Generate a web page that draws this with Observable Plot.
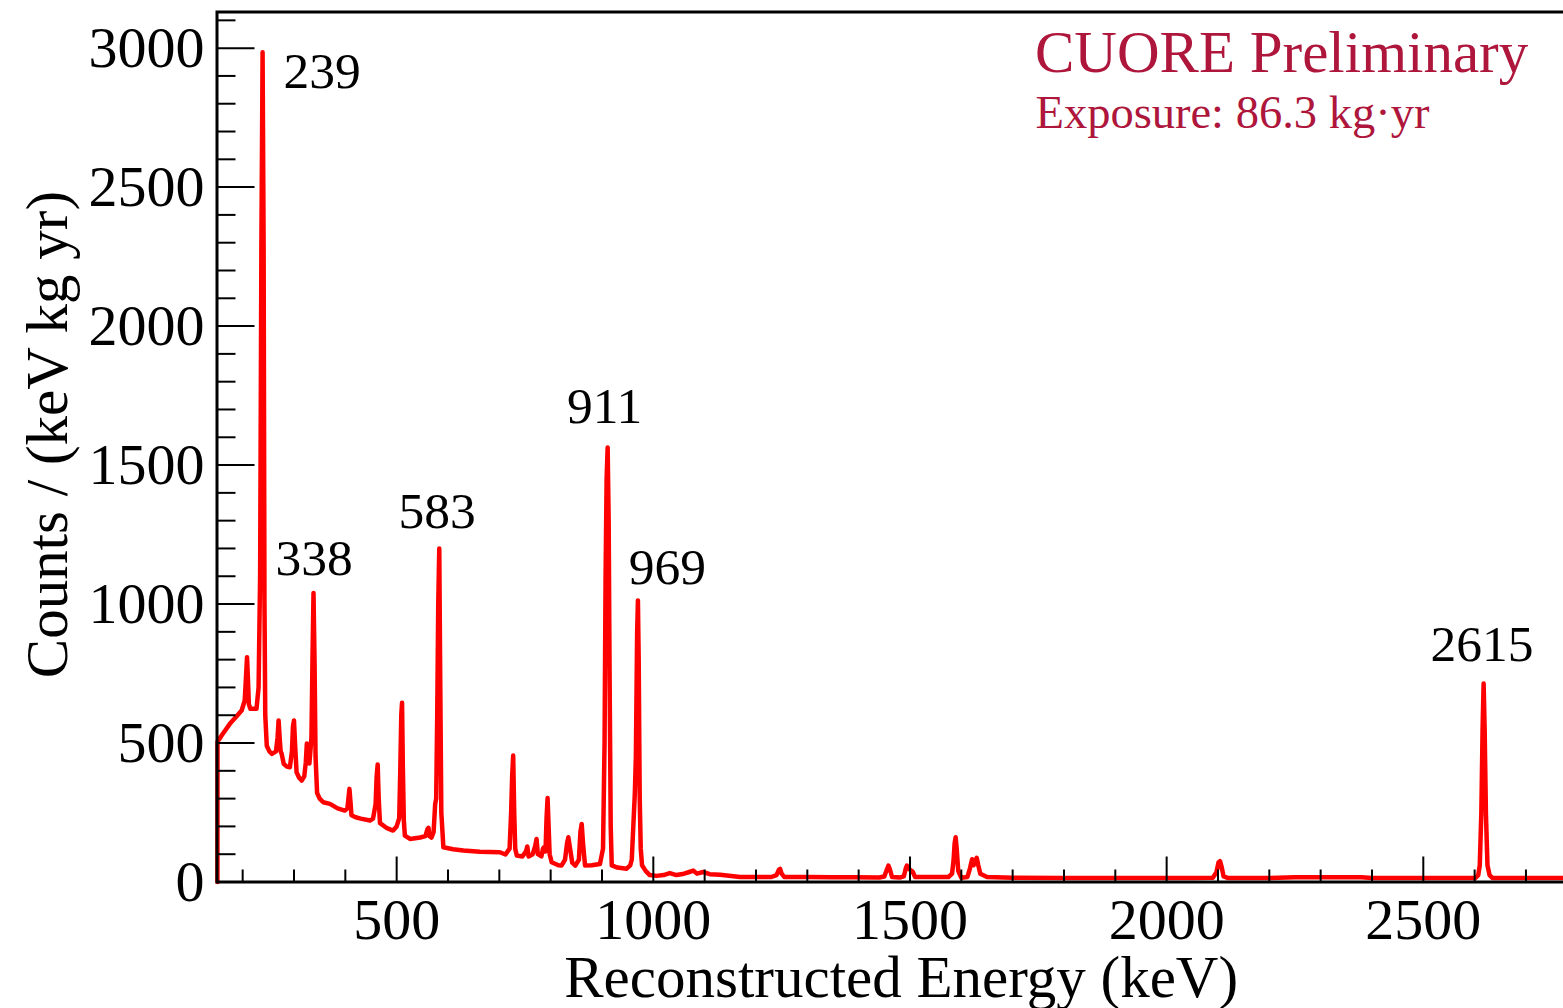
<!DOCTYPE html>
<html><head><meta charset="utf-8">
<script src="https://cdn.jsdelivr.net/npm/d3@7"></script>
<script src="https://cdn.jsdelivr.net/npm/@observablehq/plot@0.6"></script>
<style>
html,body{margin:0;padding:0;background:#fff;overflow:hidden;width:1563px;height:1008px;}
#chart svg{display:block;max-width:none !important;}
</style></head><body><div id="chart"></div>
<script>
// Reconstructed energy (keV) of each sampled point of the spectrum
const energies = [150.8,151,160,175,190,198,204,206,208.5,210.5,212,215,227,231,234,236.5,238.8,240.8,242.5,244,247,252,257,265,268,270,272,274,276,280,286,292,296,298,300,302,305,310,315,320,323,325,327,330,334,336,338,340,342,345,350,357,370,385,399,404,406,408,410,412,420,430,448,454,459,461,463,465,467.5,480,493,500,505,507,509,510.5,512,514,516,526,546,556,560,562,564,568,572,575,577,579,581,583,585,587,591,610,630,662,701,712,720,723,725,727,729,731,734,745,752,754.5,757,765,770,772.5,775,782,785,787,790,792,794,796,798,802,815,821,828,832,834.5,837,842,848,855,858,860.5,863,867,880,896,902,905,907,909,911,913,915,917,919,930,948,955,958,961,964,966,968.5,970,971.5,973.5,975.5,978,985,993,1006,1020,1032,1045,1060,1070,1078,1085,1097,1110,1130,1143,1169,1200,1230,1240,1245,1247,1250,1255,1300,1350,1390,1440,1450,1455,1458,1461,1465,1480,1488,1492,1494,1497,1501,1505,1510,1530,1556,1575,1582,1585,1587,1589,1591,1594,1600,1612,1617,1621,1624,1627,1630,1633,1637,1650,1700,1800,1900,2000,2050,2090,2097,2101,2104,2107,2111,2120,2200,2250,2300,2380,2400,2500,2601,2607,2610,2613,2615.5,2617.5,2619.5,2622,2625,2629,2635,2700,2800];
// Counts / (keV kg yr) at those energies
const counts = [0,505,530,569,600,617,653,720,809,720,640,623,623,700,1100,2300,2985,2300,1000,600,490,470,461,470,520,581,520,470,461,425,415,413,470,560,581,500,395,375,365,380,430,498,470,426,520,800,1040,800,450,320,300,287,281,265,257,265,300,335,290,240,233,228,221,228,280,380,423,300,212,195,185,200,230,400,600,645,420,220,167,155,160,165,190,195,165,160,180,280,300,600,1000,1200,700,250,125,118,113,109,107,99,120,250,380,455,250,120,95,92,110,128,92,100,130,155,100,92,120,125,110,230,302,200,100,71,60,59,80,140,161,130,70,59,80,180,209,140,59,60,65,120,500,1100,1450,1563,1300,700,200,60,52,48,60,80,200,320,450,900,1013,800,300,120,60,40,25,22,25,32,25,30,36,41,30,36,28,26,23,18,18,18,25,45,47,30,18,18,17,17,16,20,45,59,45,18,16,20,50,59,50,42,38,18,18,18,18,30,80,140,161,120,40,15,18,50,82,60,75,87,60,30,18,15,14,14,14,14,15,35,70,75,55,20,14,14,17,17,17,14,14,14,25,60,246,550,714,550,246,60,25,14,14,14];

const peakLabels = ["239","338","583","911","969","2615"];
const peakLabelEnergies = [355,339,578.6,905,1027.6,2614.4];
const peakLabelCounts = [2917,1165,1334,1712,1133,856];

const xMajorTicks = [500,1000,1500,2000,2500];
const xMinorTicks = [200,300,400,600,700,800,900,1100,1200,1300,1400,1600,1700,1800,1900,2100,2200,2300,2400,2600,2700];
const yMajorTicks = [0,500,1000,1500,2000,2500,3000];
const yMinorTicks = [100,200,300,400,600,700,800,900,1100,1200,1300,1400,1600,1700,1800,1900,2100,2200,2300,2400,2600,2700,2800,2900,3100];

const xTitle = "Reconstructed Energy (keV)";
const yTitle = "Counts / (keV kg yr)";
const headline = "CUORE Preliminary";
const exposureText = "Exposure: 86.3 kg·yr";

const spectrum = energies.map((e, i) => ({energy: e, count: counts[i]}));
const labels = peakLabels.map((t, i) => ({text: t, energy: peakLabelEnergies[i], count: peakLabelCounts[i]}));

const W = 1580, H = 1008, ML = 216.5, MR = 3.2, MT = 11.5, MB = 126.5;
const innerW = W - ML - MR, innerH = H - MT - MB;
const serif = "'Liberation Serif', 'Times New Roman', serif";
const crimson = "#ae163c";
const txt = {fill: "black", fontFamily: serif, lineAnchor: "middle"};

const chart = Plot.plot({
  width: W, height: H,
  marginLeft: ML, marginRight: MR, marginTop: MT, marginBottom: MB,
  style: {fontFamily: serif, background: "white", color: "black", maxWidth: "none"},
  x: {domain: [150, 2800], axis: null},
  y: {domain: [0, 3130], axis: null},
  marks: [
    Plot.line(spectrum, {x: "energy", y: "count", stroke: "#ff0000", strokeWidth: 4.5}),
    Plot.tickX(xMinorTicks, {x: d => d, stroke: "black", strokeWidth: 2, insetTop: innerH - 12}),
    Plot.tickX(xMajorTicks, {x: d => d, stroke: "black", strokeWidth: 2, insetTop: innerH - 25}),
    Plot.tickY(yMinorTicks, {y: d => d, stroke: "black", strokeWidth: 2, insetRight: innerW - 19}),
    Plot.tickY(yMajorTicks, {y: d => d, stroke: "black", strokeWidth: 2, insetRight: innerW - 38}),
    Plot.frame({stroke: "black", strokeWidth: 3}),
    Plot.text(xMajorTicks, {...txt, x: d => d, frameAnchor: "bottom", textAnchor: "middle", dy: 38, text: d => String(d), fontSize: 58}),
    Plot.text(yMajorTicks, {...txt, y: d => d, frameAnchor: "left", dx: -12.5, textAnchor: "end", text: d => String(d), fontSize: 58}),
    Plot.text([xTitle], {...txt, frameAnchor: "bottom", textAnchor: "middle", dx: 4, dy: 96.5, text: d => d, fontSize: 59}),
    Plot.text([yTitle], {...txt, frameAnchor: "left", textAnchor: "middle", dx: -168.5, dy: -12.5, rotate: -90, text: d => d, fontSize: 59}),
    Plot.text(labels, {...txt, x: "energy", y: "count", textAnchor: "middle", text: "text", fontSize: 51.5}),
    Plot.text([headline], {...txt, frameAnchor: "top-left", dx: 818, dy: 41.5, textAnchor: "start", text: d => d, fontSize: 59, fill: crimson}),
    Plot.text([exposureText], {...txt, frameAnchor: "top-left", dx: 818.5, dy: 101, textAnchor: "start", text: d => d, fontSize: 46.5, fill: crimson})
  ]
});
document.getElementById("chart").appendChild(chart);
</script>
</body></html>
